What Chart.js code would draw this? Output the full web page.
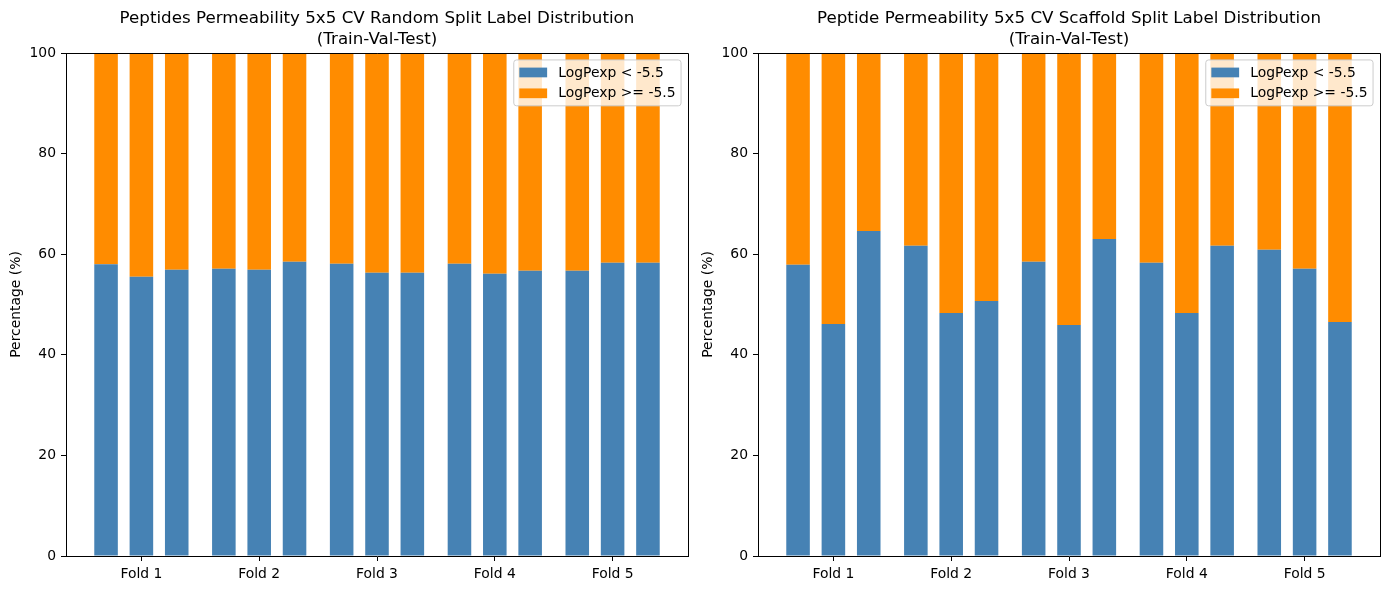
<!DOCTYPE html>
<html>
<head>
<meta charset="utf-8">
<title>Peptide Permeability label distribution</title>
<script src="https://cdn.jsdelivr.net/npm/chart.js@4.4.1/dist/chart.umd.min.js"></script>
<style>
  html, body { margin: 0; padding: 0; background: #fff; }
  body { width: 1389px; height: 590px; position: relative; overflow: hidden; }
  .panel { position: absolute; top: 0; }
</style>
</head>
<body>
<canvas id="randomChart" class="panel" style="left:0px" width="692" height="590"></canvas>
<canvas id="scaffoldChart" class="panel" style="left:692px" width="692" height="590"></canvas>
<script>
'use strict';

var foldLabels = ['Fold 1', 'Fold 2', 'Fold 3', 'Fold 4', 'Fold 5'];
var splitNames = ['Train', 'Val', 'Test'];
var seriesLabels = ['LogPexp < -5.5', 'LogPexp >= -5.5'];

// Percentages per fold, in order train / val / test.
var randomLow = [58.0, 55.5, 56.9, 57.1, 56.9, 58.5, 58.1, 56.3, 56.3, 58.1, 56.1, 56.7, 56.7, 58.3, 58.3];
var randomHigh = [42.0, 44.5, 43.1, 42.9, 43.1, 41.5, 41.9, 43.7, 43.7, 41.9, 43.9, 43.3, 43.3, 41.7, 41.7];
var scaffoldLow = [57.9, 46.1, 64.6, 61.7, 48.3, 50.7, 58.5, 45.9, 63.0, 58.3, 48.3, 61.7, 60.9, 57.1, 46.5];
var scaffoldHigh = [42.1, 53.9, 35.4, 38.3, 51.7, 49.3, 41.5, 54.1, 37.0, 41.7, 51.7, 38.3, 39.1, 42.9, 53.5];

var FONT = '"DejaVu Sans", sans-serif';
var FS = 13.9;

Chart.defaults.font.family = FONT;
Chart.defaults.font.size = FS;
Chart.defaults.color = '#000';

// Bars sit at fold index +- 0.3, like matplotlib's offset bars.
function toPoints(values) {
  return values.map(function(v, i) {
    var fold = Math.floor(i / splitNames.length);
    var split = i % splitNames.length;
    return { x: fold + (split - 1) * 0.3, y: v };
  });
}

// Matplotlib-like frame: add top and right spines.
var frame = {
  id: 'frame',
  afterDatasetsDraw: function(chart) {
    var a = chart.chartArea;
    var ctx = chart.ctx;
    ctx.save();
    ctx.strokeStyle = '#000';
    ctx.lineWidth = 1;
    ctx.beginPath();
    ctx.moveTo(Math.round(a.left), Math.round(a.top) + 0.5);
    ctx.lineTo(Math.round(a.right) + 0.5, Math.round(a.top) + 0.5);
    ctx.lineTo(Math.round(a.right) + 0.5, Math.round(a.bottom));
    ctx.stroke();
    ctx.restore();
  }
};

// Two-line title centred over the plot area.
var plotTitle = {
  id: 'plotTitle',
  afterDraw: function(chart, args, opts) {
    var a = chart.chartArea;
    var ctx = chart.ctx;
    var cx = (a.left + a.right) / 2;
    ctx.save();
    ctx.fillStyle = '#000';
    ctx.font = '16.7px ' + FONT;
    ctx.textAlign = 'center';
    ctx.textBaseline = 'middle';
    opts.lines.forEach(function(line, i) {
      ctx.fillText(line, cx, 19 + i * 20.5);
    });
    ctx.restore();
  }
};

// Legend drawn inside the axes, upper right.
var innerLegend = {
  id: 'innerLegend',
  afterDraw: function(chart) {
    var a = chart.chartArea;
    var ctx = chart.ctx;
    var sets = chart.data.datasets;
    ctx.save();
    ctx.font = FS + 'px ' + FONT;

    var textW = 0;
    sets.forEach(function(d) {
      textW = Math.max(textW, ctx.measureText(d.label).width);
    });

    var pad = 0.4 * FS;
    var handleW = 2 * FS;
    var handleH = 0.7 * FS;
    var textPad = 0.8 * FS;
    var rowGap = 0.5 * FS;
    var rowH = FS;
    var w = pad * 2 + handleW + textPad + textW;
    var h = pad * 2 + rowH * sets.length + rowGap * (sets.length - 1);
    var x = a.right - 0.5 * FS - w;
    var y = a.top + 0.5 * FS;

    ctx.beginPath();
    ctx.roundRect(x, y, w, h, 0.2 * FS);
    ctx.fillStyle = 'rgba(255,255,255,0.8)';
    ctx.fill();
    ctx.strokeStyle = '#cccccc';
    ctx.lineWidth = 1;
    ctx.stroke();

    ctx.textAlign = 'left';
    ctx.textBaseline = 'middle';
    sets.forEach(function(d, i) {
      var rowY = y + pad + rowH / 2 + i * (rowH + rowGap);
      ctx.fillStyle = d.backgroundColor;
      ctx.fillRect(x + pad, rowY - handleH / 2, handleW, handleH);
      ctx.fillStyle = '#000';
      ctx.fillText(d.label, x + pad + handleW + textPad, rowY + 0.5);
    });
    ctx.restore();
  }
};

function makeChart(canvasId, titleLines, low, high) {
  var ctx = document.getElementById(canvasId).getContext('2d');

  return new Chart(ctx, {
    type: 'bar',
    data: {
      datasets: [
        { label: seriesLabels[0], data: toPoints(low), backgroundColor: '#4682b4', borderWidth: 0 },
        { label: seriesLabels[1], data: toPoints(high), backgroundColor: '#ff8c00', borderWidth: 0 }
      ]
    },
    options: {
      responsive: false,
      animation: false,
      devicePixelRatio: 1,
      categoryPercentage: 1,
      barPercentage: 2 / 3,
      layout: { padding: { top: 53, right: 4, left: 0, bottom: 0 } },
      plugins: {
        legend: { display: false },
        tooltip: { enabled: false },
        plotTitle: { lines: titleLines }
      },
      scales: {
        x: {
          type: 'linear',
          stacked: true,
          offset: false,
          min: -0.64,
          max: 4.64,
          afterBuildTicks: function(scale) {
            scale.ticks = foldLabels.map(function(l, i) { return { value: i }; });
          },
          afterFit: function(scale) { scale.height = 34; },
          ticks: {
            padding: 5,
            maxRotation: 0,
            autoSkip: false,
            callback: function(value, index) { return foldLabels[index]; }
          },
          grid: {
            offset: false,
            drawOnChartArea: false,
            drawTicks: true,
            tickLength: 5,
            tickColor: '#000'
          },
          border: { color: '#000', width: 1 }
        },
        y: {
          stacked: true,
          min: 0,
          max: 100,
          afterFit: function(scale) { scale.width = 66; },
          ticks: { stepSize: 20, padding: 5 },
          title: {
            display: true,
            text: 'Percentage (%)',
            font: { size: FS },
            padding: { top: 8, bottom: 0 }
          },
          grid: { drawOnChartArea: false, drawTicks: true, tickLength: 5, tickColor: '#000' },
          border: { color: '#000', width: 1 }
        }
      }
    },
    plugins: [frame, plotTitle, innerLegend]
  });
}

makeChart('randomChart',
  ['Peptides Permeability 5x5 CV Random Split Label Distribution', '(Train-Val-Test)'],
  randomLow, randomHigh);

makeChart('scaffoldChart',
  ['Peptide Permeability 5x5 CV Scaffold Split Label Distribution', '(Train-Val-Test)'],
  scaffoldLow, scaffoldHigh);
</script>
</body>
</html>
